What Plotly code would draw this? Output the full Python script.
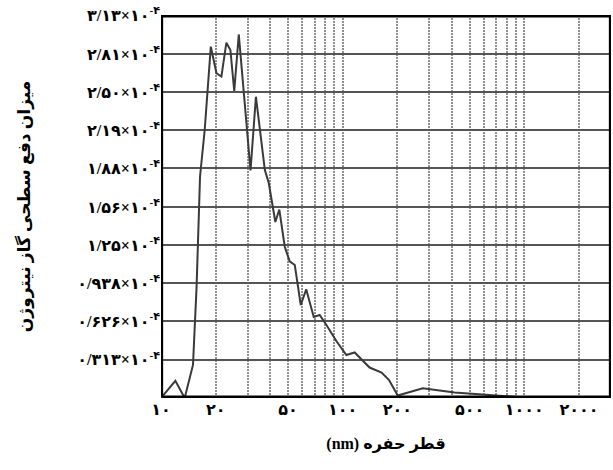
import plotly.graph_objects as go

# Pore diameter (nm) and surface adsorption (x1e-4)
diameter = [10, 12, 13.5, 15.0, 15.7, 16.4, 17.4, 18.8, 20.2, 21.5, 22.9, 24.1, 25.3, 26.8,
            31.1, 33.3, 37.3, 39.2, 42.6, 44.8, 48.0, 51.1, 54.5, 58.8, 63.0, 69.3, 74.7,
            81.4, 92.3, 104.8, 116.4, 140.7, 163.8, 180, 201, 276, 413, 796, 1000]
adsorption = [0.0, 0.141, 0.0, 0.27, 0.91, 1.81, 2.19, 2.871, 2.654, 2.627, 2.904, 2.844, 2.509, 2.971,
              1.859, 2.462, 1.863, 1.757, 1.438, 1.540, 1.236, 1.116, 1.087, 0.760, 0.888, 0.662, 0.678,
              0.597, 0.466, 0.351, 0.372, 0.249, 0.208, 0.147, 0.02, 0.079, 0.045, 0.014, 0.004]

x_gridvals = [10, 20, 30, 40, 50, 60, 70, 80, 90, 100, 200, 300, 400, 500, 600, 700, 800, 900, 1000, 2000]
x_ticktext = ["۱۰", "۲۰", "", "", "۵۰", "", "", "", "", "۱۰۰", "۲۰۰", "", "", "۵۰۰", "", "", "", "",
              "۱۰۰۰", "۲۰۰۰"]

y_tickvals = [0.313, 0.626, 0.938, 1.25, 1.56, 1.88, 2.19, 2.50, 2.81, 3.13]
y_mant = ["۰/۳۱۳", "۰/۶۲۶", "۰/۹۳۸", "۱/۲۵", "۱/۵۶", "۱/۸۸", "۲/۱۹", "۲/۵۰", "۲/۸۱", "۳/۱۳"]
y_ticktext = ["<b>" + m + "×۱۰<sup>-۴</sup></b>" for m in y_mant]

# plot frame outline in a normalised (0..1) overlay axis pair
frame_x = [0, 1, 1, 0, 0]
frame_y = [0, 0, 1, 1, 0]

x_title = "(nm) قطر حفره"
y_title = "میزان دفع سطحی گاز نیتروژن"

FONT = "Liberation Serif, DejaVu Sans, serif"
SOLID = "2000px,1px"

fig = go.Figure()
fig.add_trace(go.Scatter(x=diameter, y=adsorption, mode="lines",
                         line=dict(color="#3a3a3a", width=2), showlegend=False))
fig.add_trace(go.Scatter(x=frame_x, y=frame_y, xaxis="x2", yaxis="y2", mode="lines",
                         line=dict(color="black", width=2.5), showlegend=False,
                         hoverinfo="skip", cliponaxis=False))

fig.update_layout(
    width=613, height=470,
    margin=dict(l=161, r=2, t=15, b=72),
    paper_bgcolor="white", plot_bgcolor="white",
    font=dict(family=FONT, color="black"),
    xaxis2=dict(range=[-0.002, 1.002], overlaying="x", anchor="y", visible=False,
                showgrid=False, zeroline=False, fixedrange=True),
    yaxis2=dict(range=[-0.003, 1.003], overlaying="y", anchor="x", visible=False,
                showgrid=False, zeroline=False, fixedrange=True),
    xaxis=dict(
        type="log", range=[1, 3.4771],
        tickmode="array", tickvals=x_gridvals,
        ticktext=[("<b>" + t + "</b>") if t else "" for t in x_ticktext],
        tickfont=dict(size=16, family=FONT),
        ticks="", showgrid=True, gridcolor="#8f8f8f", gridwidth=2, griddash="2px,1px",
        showline=False, zeroline=False,
        title=dict(text="<b>" + x_title + "</b>", font=dict(size=16, family=FONT), standoff=20),
    ),
    yaxis=dict(
        range=[0, 3.13],
        tickmode="array", tickvals=y_tickvals, ticktext=y_ticktext,
        tickfont=dict(size=16, family=FONT),
        ticks="", showgrid=True, gridcolor="#555555", gridwidth=1.5, griddash=SOLID,
        showline=False, zeroline=False,
        title=dict(text="<b>" + y_title + "</b>", font=dict(size=17, family=FONT), standoff=42),
    ),
)

fig.write_html("out.html", config={"displayModeBar": False},
               post_script="document.body.style.margin='0px';")
